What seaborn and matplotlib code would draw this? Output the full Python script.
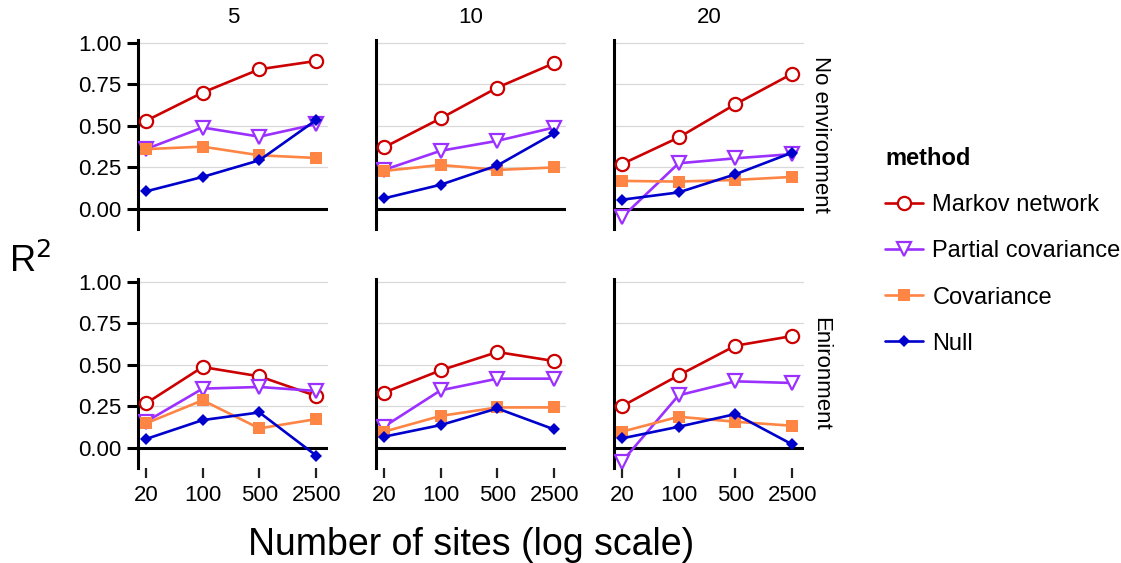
import numpy as np
import pandas as pd
import matplotlib
matplotlib.use("Agg")
import matplotlib.pyplot as plt
from matplotlib.lines import Line2D
import seaborn as sns

# x values and facet labels
sites = [20, 100, 500, 2500]
species = [5, 10, 20]
envs = ["No environment", "Enironment"]
methods = ["Markov network", "Partial covariance", "Covariance", "Null"]

# one row per species panel (5, 10, 20), values at 20/100/500/2500 sites
markov_noenv = [[0.53, 0.70, 0.84, 0.89], [0.37, 0.545, 0.73, 0.877], [0.27, 0.43, 0.63, 0.813]]
partial_noenv = [[0.36, 0.49, 0.435, 0.51], [0.235, 0.35, 0.41, 0.49], [-0.05, 0.275, 0.305, 0.33]]
cov_noenv = [[0.36, 0.375, 0.323, 0.307], [0.229, 0.265, 0.235, 0.25], [0.169, 0.165, 0.175, 0.193]]
null_noenv = [[0.106, 0.193, 0.293, 0.535], [0.064, 0.146, 0.262, 0.455], [0.056, 0.10, 0.209, 0.339]]

markov_env = [[0.268, 0.487, 0.431, 0.313], [0.333, 0.467, 0.577, 0.523], [0.251, 0.437, 0.615, 0.673]]
partial_env = [[0.158, 0.357, 0.367, 0.343], [0.128, 0.347, 0.417, 0.417], [-0.082, 0.317, 0.401, 0.391]]
cov_env = [[0.148, 0.287, 0.118, 0.174], [0.098, 0.193, 0.244, 0.244], [0.098, 0.188, 0.158, 0.134]]
null_env = [[0.054, 0.168, 0.214, -0.045], [0.068, 0.138, 0.238, 0.112], [0.058, 0.128, 0.204, 0.022]]

colors = {"Markov network": "#CC0000", "Partial covariance": "#9B30FF",
          "Covariance": "#FF8545", "Null": "#0000CC"}
marker_kw = {
    "Markov network": dict(marker="o", markersize=9.5, markerfacecolor="white", markeredgewidth=1.6),
    "Partial covariance": dict(marker="v", markersize=10.5, markerfacecolor="white", markeredgewidth=1.6),
    "Covariance": dict(marker="s", markersize=8.5, markeredgewidth=0),
    "Null": dict(marker="D", markersize=6, markeredgewidth=0),
}

# build long table
series = {
    ("No environment", "Markov network"): markov_noenv,
    ("No environment", "Partial covariance"): partial_noenv,
    ("No environment", "Covariance"): cov_noenv,
    ("No environment", "Null"): null_noenv,
    ("Enironment", "Markov network"): markov_env,
    ("Enironment", "Partial covariance"): partial_env,
    ("Enironment", "Covariance"): cov_env,
    ("Enironment", "Null"): null_env,
}
rows = []
for (env, method), vals in series.items():
    for k, sp in enumerate(species):
        for s, v in zip(sites, vals[k]):
            rows.append({"env": env, "species": sp, "method": method, "sites": s, "r2": v})
df = pd.DataFrame(rows)

sns.set_style("white")
plt.rcParams["font.family"] = ["Liberation Sans", "DejaVu Sans"]
plt.rcParams["text.color"] = "black"
plt.rcParams["xtick.color"] = "black"
plt.rcParams["ytick.color"] = "black"
plt.rcParams["xtick.labelcolor"] = "black"
plt.rcParams["ytick.labelcolor"] = "black"

W, H = 1121, 563
fig = plt.figure(figsize=(W / 100, H / 100), dpi=100)

col_left = [138, 376, 614]
row_top = [40, 279]
pw, ph = 190, 189

for r, env in enumerate(envs):
    for c, sp in enumerate(species):
        ax = fig.add_axes([col_left[c] / W, 1 - (row_top[r] + ph) / H, pw / W, ph / H])
        ax.set_xscale("log")
        for yv in [0.25, 0.5, 0.75, 1.0]:
            ax.axhline(yv, color="#D9D9D9", lw=0.9, zorder=0)
        ax.axhline(0, color="black", lw=2.2, zorder=1)
        sub = df[(df["env"] == env) & (df["species"] == sp)]
        for m in methods:
            d = sub[sub["method"] == m]
            sns.lineplot(data=d, x="sites", y="r2", ax=ax, color=colors[m],
                         markeredgecolor=colors[m], lw=1.9, errorbar=None,
                         zorder=3, **marker_kw[m])
        ax.set_xlim(16, 3500)
        ax.set_ylim(-0.12, 1.016)
        ax.set_xlabel("")
        ax.set_ylabel("")
        for side in ["top", "right", "bottom"]:
            ax.spines[side].set_visible(False)
        ax.spines["left"].set_linewidth(2.2)
        ax.spines["left"].set_color("black")
        ax.set_xticks(sites)
        ax.minorticks_off()
        ax.set_yticks([0, 0.25, 0.5, 0.75, 1.0])
        if c == 0:
            ax.set_yticklabels(["0.00", "0.25", "0.50", "0.75", "1.00"])
            ax.tick_params(axis="y", length=8, width=2.2, labelsize=16, pad=4, left=True)
        else:
            ax.tick_params(axis="y", left=False, labelleft=False)
        if r == 1:
            ax.set_xticklabels([str(s) for s in sites])
            ax.tick_params(axis="x", length=7, width=1.6, color="#222222",
                           labelsize=16, pad=5, bottom=True)
        else:
            ax.tick_params(axis="x", bottom=False, labelbottom=False)
        if r == 0:
            ax.text(0.5, 1.121, str(sp), transform=ax.transAxes, ha="center",
                    va="center", fontsize=16)
        if c == 2:
            ax.text(1.085, 0.5, env, transform=ax.transAxes, ha="center",
                    va="center", rotation=-90, fontsize=16)

fig.text(30 / W, 1 - 262 / H, "R$^2$", fontsize=26, ha="center", va="center")
fig.text(471 / W, 1 - 545 / H, "Number of sites (log scale)", fontsize=27,
         ha="center", va="center")

handles = [Line2D([], [], color=colors[m], markeredgecolor=colors[m], lw=1.9, **marker_kw[m])
           for m in methods]
leg = fig.legend(handles, methods, loc="upper left", bbox_to_anchor=(864 / W, 1 - 126 / H),
                 frameon=False, title="method", alignment="left", fontsize=17,
                 title_fontproperties={"weight": "bold", "size": 17},
                 labelspacing=1.02, handlelength=1.6, handletextpad=0.4)
for t in leg.get_texts():
    t.set_color("black")
leg.get_title().set_color("black")

fig.savefig("out.png", dpi=100)
